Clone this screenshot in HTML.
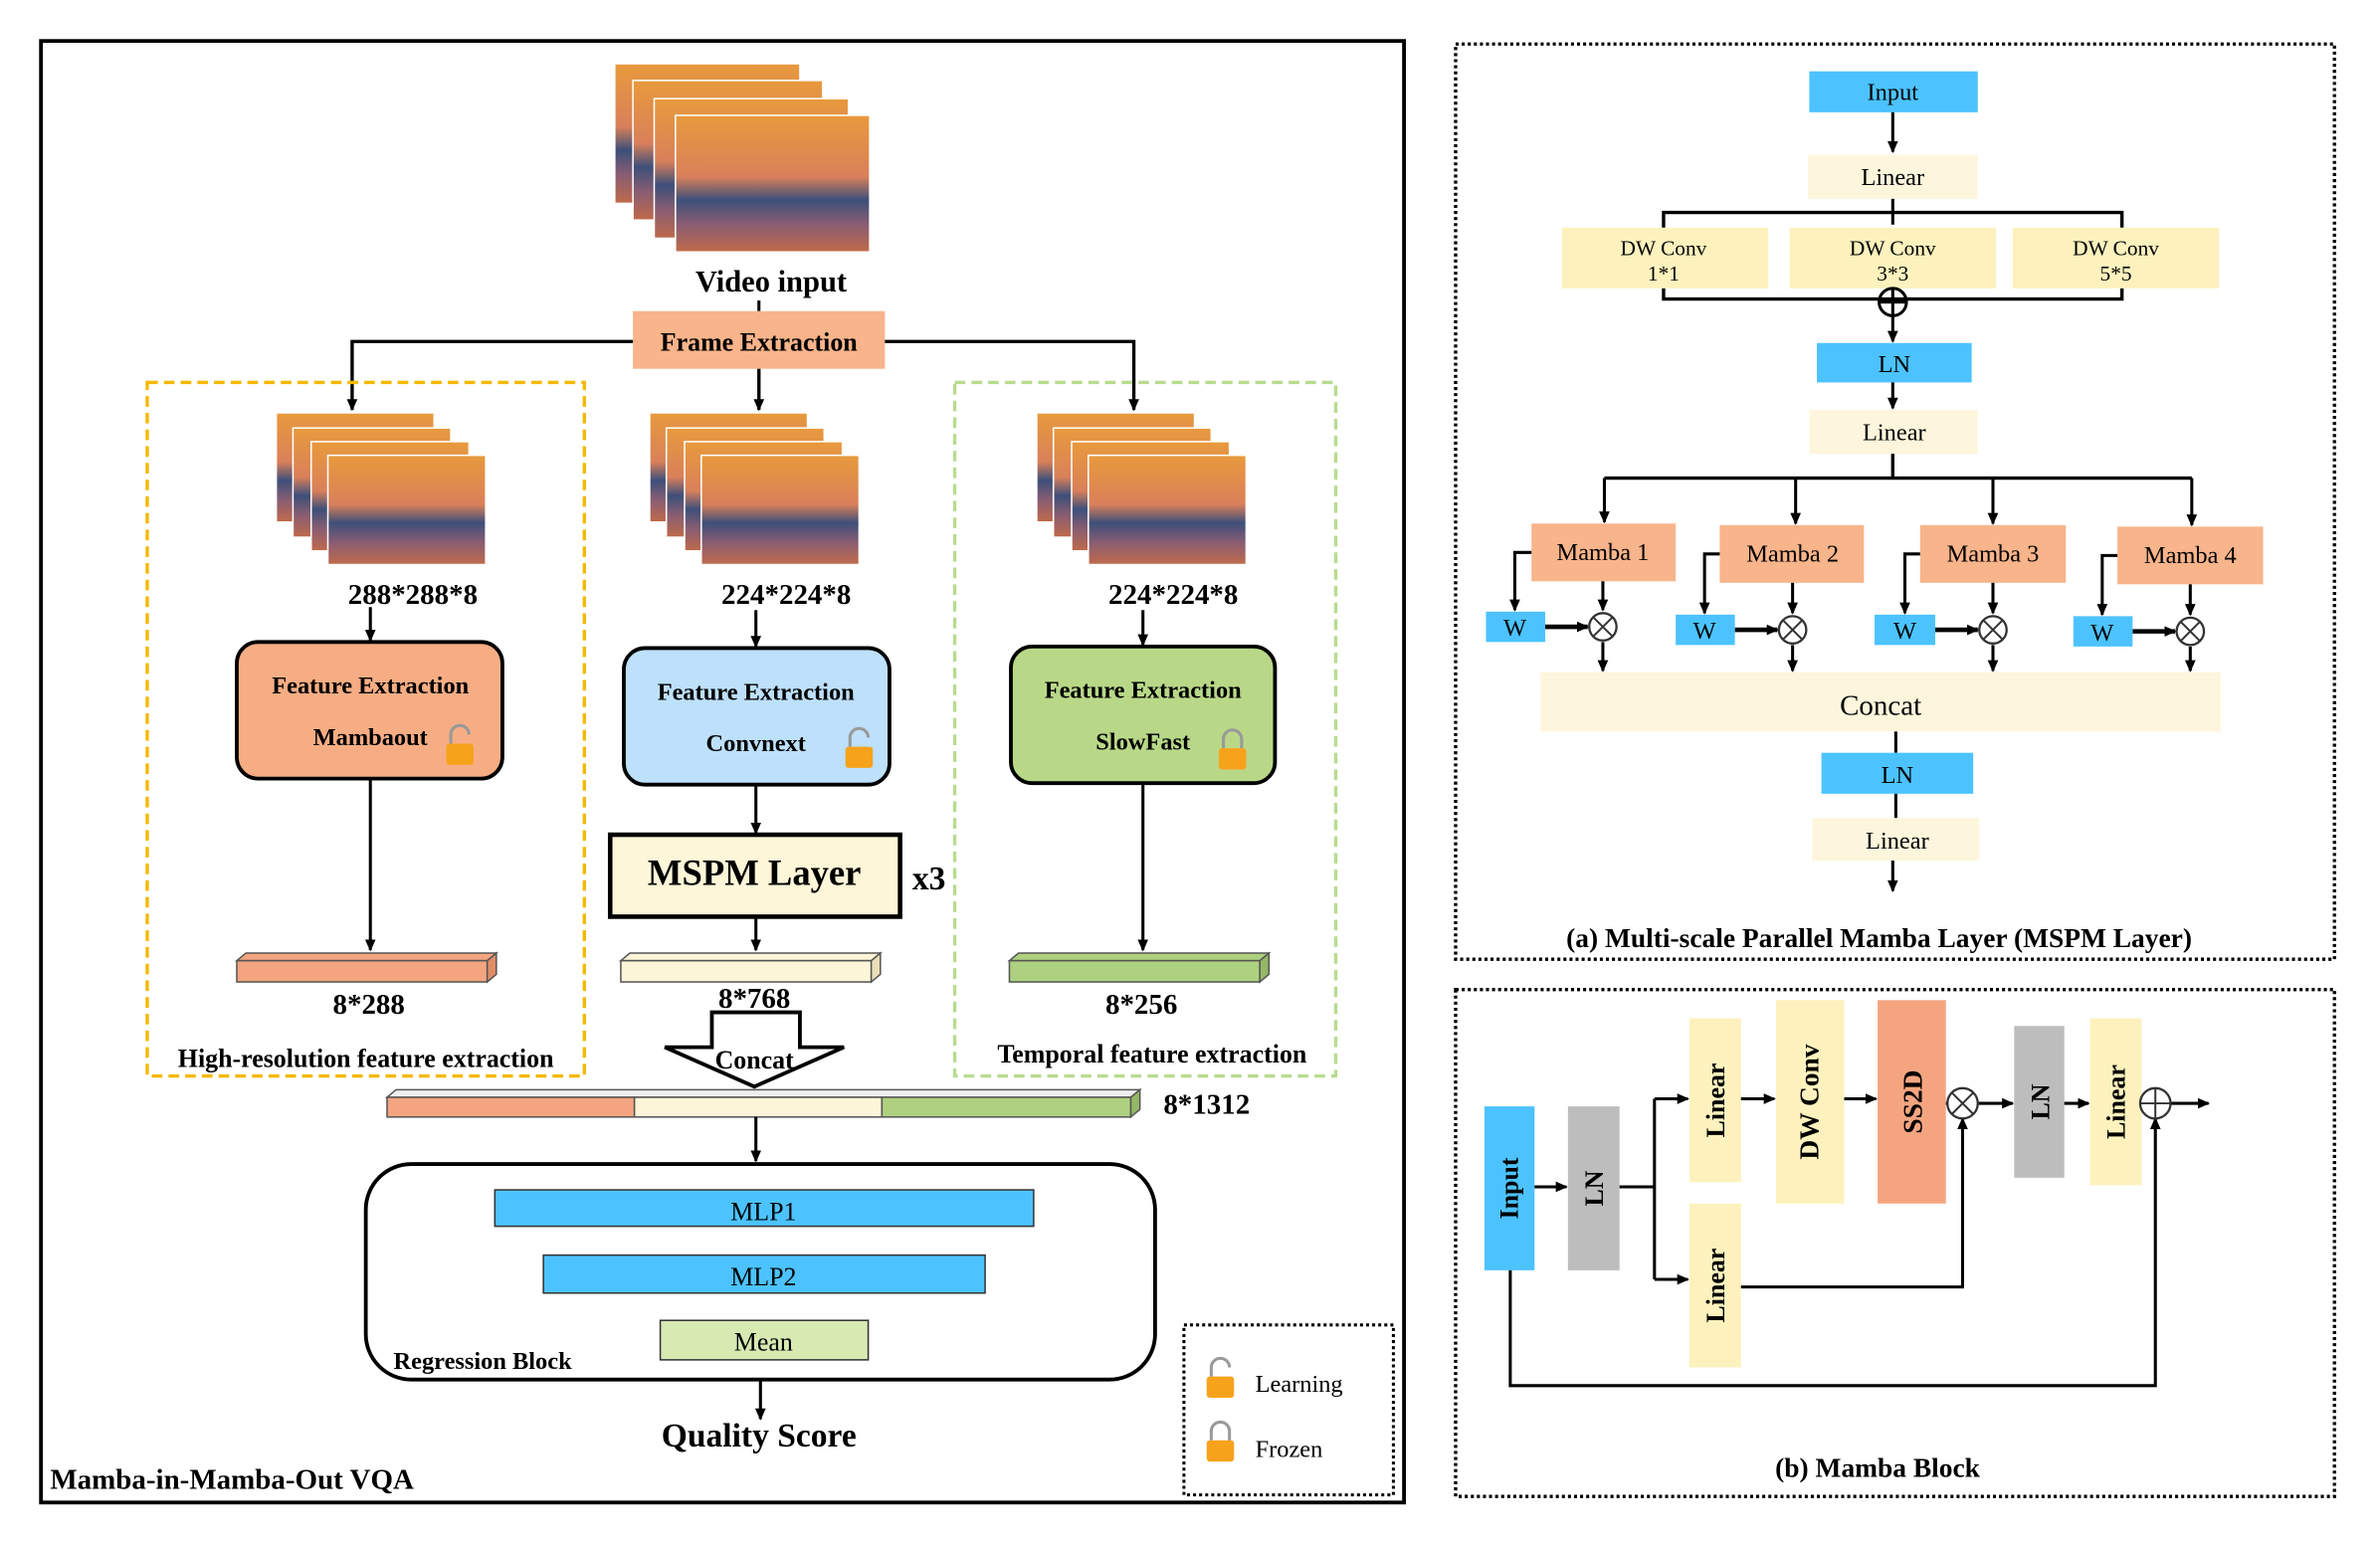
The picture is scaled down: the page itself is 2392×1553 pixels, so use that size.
<!DOCTYPE html>
<html><head><meta charset="utf-8"><style>
html,body{margin:0;padding:0;background:#fff;}
svg{display:block;}
text{font-family:"Liberation Serif",serif;fill:#000;}
.b{font-weight:bold;}
</style></head><body>
<svg width="2392" height="1553" viewBox="0 0 1568 1018" preserveAspectRatio="none" xmlns="http://www.w3.org/2000/svg">
<defs>
<marker id="ar" markerWidth="8" markerHeight="8" refX="7" refY="4" orient="auto" markerUnits="userSpaceOnUse"><path d="M0,0.5 L8,4 L0,7.5 z" fill="#000"/></marker>
<linearGradient id="ph" x1="0" y1="0" x2="0" y2="1">
<stop offset="0" stop-color="#e89a3c"/><stop offset="0.45" stop-color="#d9805a"/><stop offset="0.62" stop-color="#3d4f7a"/><stop offset="0.8" stop-color="#8a5d72"/><stop offset="1" stop-color="#c06a4a"/></linearGradient>
<g id="stackL"><rect x="0" y="0" width="104" height="72" fill="url(#ph)" stroke="#fff" stroke-width="1"/><rect x="11" y="10" width="104" height="72" fill="url(#ph)" stroke="#fff"/><rect x="23" y="19" width="104" height="72" fill="url(#ph)" stroke="#fff"/><rect x="34" y="28" width="104" height="72" fill="url(#ph)" stroke="#fff"/></g>
<g id="lockC"><path d="M-6,0 v-6 a6,6 0 0 1 12,0 v6" fill="none" stroke="#999" stroke-width="2"/><rect x="-9" y="0" width="18" height="14" rx="2" fill="#f7a21b"/></g>
<g id="lockO"><path d="M-6,0 v-6 a6,6 0 0 1 12,0 v-1" fill="none" stroke="#999" stroke-width="2"/><rect x="-9" y="0" width="18" height="14" rx="2" fill="#f7a21b"/></g>
</defs>

<rect x="27" y="27" width="898" height="963" fill="none" stroke="#000" stroke-width="2.5"/>
<rect x="405" y="42" width="122" height="92" fill="url(#ph)" stroke="#fff"/>
<rect x="417" y="53" width="125" height="92" fill="url(#ph)" stroke="#fff"/>
<rect x="431" y="65" width="128" height="92" fill="url(#ph)" stroke="#fff"/>
<rect x="445" y="76" width="128" height="90" fill="url(#ph)" stroke="#fff"/>
<text x="508" y="192" font-size="20" class="b" text-anchor="middle">Video input</text>
<line x1="500" y1="198" x2="500" y2="205" stroke="#000" stroke-width="2"/>
<rect x="417" y="205" width="166" height="38" fill="#f8b48a"/>
<text x="500" y="231" font-size="17" class="b" text-anchor="middle">Frame Extraction</text>
<path d="M417,225 H232 V270" fill="none" stroke="#000" stroke-width="2.2" marker-end="url(#ar)"/>
<path d="M583,225 H747 V270" fill="none" stroke="#000" stroke-width="2.2" marker-end="url(#ar)"/>
<line x1="500" y1="243" x2="500" y2="270" stroke="#000" stroke-width="2.2" marker-end="url(#ar)"/>
<rect x="97" y="252" width="288" height="457" fill="none" stroke="#f5b800" stroke-width="2.2" stroke-dasharray="7,4"/>
<rect x="629" y="252" width="251" height="457" fill="none" stroke="#b7dc8e" stroke-width="2.2" stroke-dasharray="7,4"/>
<use href="#stackL" x="182" y="272"/>
<use href="#stackL" x="428" y="272"/>
<use href="#stackL" x="683" y="272"/>
<text x="272" y="398" font-size="19" class="b" text-anchor="middle">288*288*8</text>
<text x="518" y="398" font-size="19" class="b" text-anchor="middle">224*224*8</text>
<text x="773" y="398" font-size="19" class="b" text-anchor="middle">224*224*8</text>
<line x1="244" y1="400" x2="244" y2="422" stroke="#000" stroke-width="2" marker-end="url(#ar)"/>
<line x1="498" y1="402" x2="498" y2="426" stroke="#000" stroke-width="2" marker-end="url(#ar)"/>
<line x1="753" y1="402" x2="753" y2="425" stroke="#000" stroke-width="2" marker-end="url(#ar)"/>
<rect x="156" y="423" width="175" height="90" rx="14" fill="#f7ad84" stroke="#000" stroke-width="2.5"/>
<text x="244" y="457" font-size="16" class="b" text-anchor="middle">Feature Extraction</text>
<text x="244" y="491" font-size="16" class="b" text-anchor="middle">Mambaout</text>
<use href="#lockO" x="303" y="490"/>
<rect x="411" y="427" width="175" height="90" rx="14" fill="#bde0fb" stroke="#000" stroke-width="2.5"/>
<text x="498" y="461" font-size="16" class="b" text-anchor="middle">Feature Extraction</text>
<text x="498" y="495" font-size="16" class="b" text-anchor="middle">Convnext</text>
<use href="#lockO" x="566" y="492"/>
<rect x="666" y="426" width="174" height="90" rx="14" fill="#b8d888" stroke="#000" stroke-width="2.5"/>
<text x="753" y="460" font-size="16" class="b" text-anchor="middle">Feature Extraction</text>
<text x="753" y="494" font-size="16" class="b" text-anchor="middle">SlowFast</text>
<use href="#lockC" x="812" y="493"/>
<line x1="244" y1="513" x2="244" y2="626" stroke="#000" stroke-width="2" marker-end="url(#ar)"/>
<line x1="498" y1="517" x2="498" y2="549" stroke="#000" stroke-width="2" marker-end="url(#ar)"/>
<line x1="753" y1="516" x2="753" y2="626" stroke="#000" stroke-width="2" marker-end="url(#ar)"/>
<rect x="402" y="550" width="191" height="54" fill="#fdf6d8" stroke="#000" stroke-width="3"/>
<text x="497" y="583" font-size="24" class="b" text-anchor="middle">MSPM Layer</text>
<text x="612" y="586" font-size="22" class="b" text-anchor="middle">x3</text>
<line x1="498" y1="604" x2="498" y2="626" stroke="#000" stroke-width="2" marker-end="url(#ar)"/>
<g stroke="#555" stroke-width="1">
<polygon points="156,633 162,628 327,628 321,633" fill="#f4a580"/><rect x="156" y="633" width="165" height="14" fill="#f4a580"/><polygon points="321,633 327,628 327,642 321,647" fill="#e08d66"/>
<polygon points="409,633 415,628 580,628 574,633" fill="#fdf5d7"/><rect x="409" y="633" width="165" height="14" fill="#fdf5d7"/><polygon points="574,633 580,628 580,642 574,647" fill="#eadfb8"/>
<polygon points="665,633 671,628 836,628 830,633" fill="#aed17f"/><rect x="665" y="633" width="165" height="14" fill="#aed17f"/><polygon points="830,633 836,628 836,642 830,647" fill="#94b866"/>
</g>
<text x="243" y="668" font-size="19" class="b" text-anchor="middle">8*288</text>
<text x="497" y="664" font-size="19" class="b" text-anchor="middle">8*768</text>
<text x="752" y="668" font-size="19" class="b" text-anchor="middle">8*256</text>
<text x="241" y="703" font-size="17" class="b" text-anchor="middle">High-resolution feature extraction</text>
<text x="759" y="700" font-size="17" class="b" text-anchor="middle">Temporal feature extraction</text>
<polygon points="469,667 527,667 527,690 556,690 497,716 438,690 469,690" fill="#fff" stroke="#000" stroke-width="2.5"/>
<text x="497" y="704" font-size="17" class="b" text-anchor="middle">Concat</text>
<g stroke="#555" stroke-width="1">
<polygon points="255,723 261,718 751,718 745,723" fill="#eee"/>
<rect x="255" y="723" width="163" height="13" fill="#f4a580"/>
<rect x="418" y="723" width="163" height="13" fill="#fdf5d7"/>
<rect x="581" y="723" width="164" height="13" fill="#aed17f"/>
<polygon points="745,723 751,718 751,731 745,736" fill="#94b866"/>
</g>
<text x="795" y="734" font-size="19" class="b" text-anchor="middle">8*1312</text>
<line x1="498" y1="736" x2="498" y2="765" stroke="#000" stroke-width="2" marker-end="url(#ar)"/>
<rect x="241" y="767" width="520" height="142" rx="30" fill="none" stroke="#000" stroke-width="2.5"/>
<rect x="326" y="784" width="355" height="24" fill="#4cc3ff" stroke="#333"/>
<text x="503" y="804" font-size="17" text-anchor="middle">MLP1</text>
<rect x="358" y="827" width="291" height="25" fill="#4cc3ff" stroke="#333"/>
<text x="503" y="847" font-size="17" text-anchor="middle">MLP2</text>
<rect x="435" y="870" width="137" height="26" fill="#d7eab2" stroke="#333"/>
<text x="503" y="890" font-size="17" text-anchor="middle">Mean</text>
<text x="318" y="902" font-size="16" class="b" text-anchor="middle">Regression Block</text>
<line x1="501" y1="909" x2="501" y2="935" stroke="#000" stroke-width="2" marker-end="url(#ar)"/>
<text x="500" y="953" font-size="22" class="b" text-anchor="middle">Quality Score</text>
<text x="33" y="981" font-size="19" class="b">Mamba-in-Mamba-Out VQA</text>
<rect x="780" y="873" width="138" height="112" fill="none" stroke="#000" stroke-width="2" stroke-dasharray="2,2"/>
<use href="#lockO" x="804" y="907"/>
<text x="827" y="917" font-size="16">Learning</text>
<use href="#lockC" x="804" y="949"/>
<text x="827" y="960" font-size="16">Frozen</text>

<rect x="959" y="29" width="579" height="603" fill="none" stroke="#000" stroke-width="2.2" stroke-dasharray="2,2"/>
<rect x="1192" y="47" width="111" height="27" fill="#4cc3ff"/>
<text x="1247" y="66" font-size="16" text-anchor="middle">Input</text>
<line x1="1247" y1="74" x2="1247" y2="100" stroke="#000" stroke-width="2" marker-end="url(#ar)"/>
<rect x="1191" y="102" width="112" height="29" fill="#fdf6dc"/>
<text x="1247" y="122" font-size="16" text-anchor="middle">Linear</text>
<line x1="1247" y1="131" x2="1247" y2="148" stroke="#000" stroke-width="2"/>
<path d="M1096,150 V140 H1398 V150" fill="none" stroke="#000" stroke-width="2.2"/>
<rect x="1029" y="150" width="136" height="40" fill="#fdf2bd"/>
<rect x="1179" y="150" width="136" height="40" fill="#fdf2bd"/>
<rect x="1326" y="150" width="136" height="40" fill="#fdf2bd"/>
<g font-size="14" text-anchor="middle">
<text x="1096" y="168">DW Conv</text><text x="1096" y="185">1*1</text>
<text x="1247" y="168">DW Conv</text><text x="1247" y="185">3*3</text>
<text x="1394" y="168">DW Conv</text><text x="1394" y="185">5*5</text></g>
<path d="M1096,190 V197 H1398 V190" fill="none" stroke="#000" stroke-width="2.2"/>
<circle cx="1247" cy="199" r="9" fill="none" stroke="#000" stroke-width="2"/>
<path d="M1238,199 H1256 M1247,190 V208" stroke="#000" stroke-width="2"/>
<line x1="1247" y1="208" x2="1247" y2="225" stroke="#000" stroke-width="2" marker-end="url(#ar)"/>
<rect x="1197" y="226" width="102" height="26" fill="#4cc3ff"/>
<text x="1248" y="245" font-size="16" text-anchor="middle">LN</text>
<line x1="1247" y1="252" x2="1247" y2="269" stroke="#000" stroke-width="2" marker-end="url(#ar)"/>
<rect x="1192" y="270" width="111" height="29" fill="#fdf6dc"/>
<text x="1248" y="290" font-size="16" text-anchor="middle">Linear</text>
<path d="M1247,299 V315 M1057,315 H1444" stroke="#000" stroke-width="2.2" fill="none"/>
<g stroke="#000" stroke-width="2" fill="none">
<line x1="1057" y1="315" x2="1057" y2="344" marker-end="url(#ar)"/>
<line x1="1183" y1="315" x2="1183" y2="345" marker-end="url(#ar)"/>
<line x1="1313" y1="315" x2="1313" y2="345" marker-end="url(#ar)"/>
<line x1="1444" y1="315" x2="1444" y2="346" marker-end="url(#ar)"/>
</g>
<rect x="1009" y="345" width="95" height="38" fill="#f8b48a"/>
<rect x="1133" y="346" width="95" height="38" fill="#f8b48a"/>
<rect x="1265" y="346" width="96" height="38" fill="#f8b48a"/>
<rect x="1395" y="347" width="96" height="38" fill="#f8b48a"/>
<g font-size="16" text-anchor="middle">
<text x="1056" y="369">Mamba 1</text><text x="1181" y="370">Mamba 2</text><text x="1313" y="370">Mamba 3</text><text x="1443" y="371">Mamba 4</text></g>
<g stroke="#000" stroke-width="2" fill="none">
<path d="M1009,364 H998 V402" marker-end="url(#ar)"/>
<path d="M1133,365 H1123 V404" marker-end="url(#ar)"/>
<path d="M1265,365 H1255 V404" marker-end="url(#ar)"/>
<path d="M1395,366 H1385 V405" marker-end="url(#ar)"/>
<line x1="1056" y1="383" x2="1056" y2="402" marker-end="url(#ar)"/>
<line x1="1181" y1="384" x2="1181" y2="404" marker-end="url(#ar)"/>
<line x1="1313" y1="384" x2="1313" y2="404" marker-end="url(#ar)"/>
<line x1="1443" y1="385" x2="1443" y2="405" marker-end="url(#ar)"/>
<line x1="1018" y1="413" x2="1046" y2="413" stroke-width="3" marker-end="url(#ar)"/>
<line x1="1143" y1="415" x2="1171" y2="415" stroke-width="3" marker-end="url(#ar)"/>
<line x1="1275" y1="415" x2="1303" y2="415" stroke-width="3" marker-end="url(#ar)"/>
<line x1="1405" y1="416" x2="1433" y2="416" stroke-width="3" marker-end="url(#ar)"/>
<line x1="1056" y1="423" x2="1056" y2="442" marker-end="url(#ar)"/>
<line x1="1181" y1="425" x2="1181" y2="442" marker-end="url(#ar)"/>
<line x1="1313" y1="425" x2="1313" y2="442" marker-end="url(#ar)"/>
<line x1="1443" y1="426" x2="1443" y2="442" marker-end="url(#ar)"/>
</g>
<g fill="#4cc3ff"><rect x="979" y="403" width="39" height="20"/><rect x="1104" y="405" width="39" height="20"/><rect x="1235" y="405" width="40" height="20"/><rect x="1366" y="406" width="39" height="20"/></g>
<g font-size="16" text-anchor="middle"><text x="998" y="419">W</text><text x="1123" y="421">W</text><text x="1255" y="421">W</text><text x="1385" y="422">W</text></g>
<g stroke="#333" stroke-width="1.5" fill="#fff">
<circle cx="1056" cy="413" r="9"/><circle cx="1181" cy="415" r="9"/><circle cx="1313" cy="415" r="9"/><circle cx="1443" cy="416" r="9"/></g>
<g stroke="#333" stroke-width="1.3">
<path d="M1050,407 L1062,419 M1062,407 L1050,419"/><path d="M1175,409 L1187,421 M1187,409 L1175,421"/><path d="M1307,409 L1319,421 M1319,409 L1307,421"/><path d="M1437,410 L1449,422 M1449,410 L1437,422"/></g>
<rect x="1015" y="443" width="448" height="39" fill="#fdf6dc"/>
<text x="1239" y="471" font-size="19" text-anchor="middle">Concat</text>
<line x1="1249" y1="482" x2="1249" y2="496" stroke="#000" stroke-width="2"/>
<rect x="1200" y="496" width="100" height="27" fill="#4cc3ff"/>
<text x="1250" y="516" font-size="16" text-anchor="middle">LN</text>
<line x1="1249" y1="523" x2="1249" y2="539" stroke="#000" stroke-width="2"/>
<rect x="1194" y="539" width="110" height="28" fill="#fdf6dc"/>
<text x="1250" y="559" font-size="16" text-anchor="middle">Linear</text>
<line x1="1247" y1="567" x2="1247" y2="587" stroke="#000" stroke-width="2" marker-end="url(#ar)"/>
<text x="1238" y="624" font-size="18" class="b" text-anchor="middle">(a) Multi-scale Parallel Mamba Layer (MSPM Layer)</text>

<rect x="959" y="652" width="579" height="334" fill="none" stroke="#000" stroke-width="2.2" stroke-dasharray="2,2"/>
<rect x="978" y="729" width="33" height="108" fill="#4cc3ff"/>
<text transform="translate(1000,783) rotate(-90)" font-size="17" class="b" text-anchor="middle">Input</text>
<rect x="1033" y="729" width="34" height="108" fill="#bdbdbd"/>
<text transform="translate(1056,783) rotate(-90)" font-size="17" class="b" text-anchor="middle">LN</text>
<rect x="1113" y="671" width="34" height="108" fill="#fdf2bd"/>
<text transform="translate(1136,725) rotate(-90)" font-size="17" class="b" text-anchor="middle">Linear</text>
<rect x="1113" y="793" width="34" height="108" fill="#fdf2bd"/>
<text transform="translate(1136,847) rotate(-90)" font-size="17" class="b" text-anchor="middle">Linear</text>
<rect x="1170" y="659" width="45" height="134" fill="#fdf2bd"/>
<text transform="translate(1198,726) rotate(-90)" font-size="18" class="b" text-anchor="middle">DW Conv</text>
<rect x="1237" y="659" width="45" height="134" fill="#f4a580"/>
<text transform="translate(1266,726) rotate(-90)" font-size="18" class="b" text-anchor="middle">SS2D</text>
<rect x="1327" y="676" width="33" height="100" fill="#bdbdbd"/>
<text transform="translate(1350,726) rotate(-90)" font-size="17" class="b" text-anchor="middle">LN</text>
<rect x="1377" y="671" width="34" height="110" fill="#fdf2bd"/>
<text transform="translate(1400,726) rotate(-90)" font-size="17" class="b" text-anchor="middle">Linear</text>
<g stroke="#000" stroke-width="2" fill="none">
<line x1="1011" y1="782" x2="1032" y2="782" marker-end="url(#ar)"/>
<path d="M1067,782 H1090 M1090,724 V843"/>
<line x1="1090" y1="724" x2="1112" y2="724" marker-end="url(#ar)"/>
<line x1="1090" y1="843" x2="1112" y2="843" marker-end="url(#ar)"/>
<line x1="1147" y1="724" x2="1169" y2="724" marker-end="url(#ar)"/>
<line x1="1215" y1="724" x2="1236" y2="724" marker-end="url(#ar)"/>
<line x1="1282" y1="727" x2="1284" y2="727"/>
<path d="M1147,848 H1293 V737" marker-end="url(#ar)"/>
<line x1="1303" y1="727" x2="1326" y2="727" marker-end="url(#ar)"/>
<line x1="1360" y1="727" x2="1376" y2="727" marker-end="url(#ar)"/>
<line x1="1430" y1="727" x2="1455" y2="727" marker-end="url(#ar)"/>
<path d="M995,837 V913 H1420 V737" marker-end="url(#ar)"/>
</g>
<circle cx="1293" cy="727" r="10" fill="#fff" stroke="#333" stroke-width="1.5"/>
<path d="M1286,720 L1300,734 M1300,720 L1286,734" stroke="#333" stroke-width="1.3"/>
<circle cx="1420" cy="727" r="10" fill="#fff" stroke="#333" stroke-width="1.5"/>
<path d="M1410,727 H1430 M1420,717 V737" stroke="#333" stroke-width="1.3"/>
<text x="1237" y="973" font-size="18" class="b" text-anchor="middle">(b) Mamba Block</text>
</svg>
</body></html>
